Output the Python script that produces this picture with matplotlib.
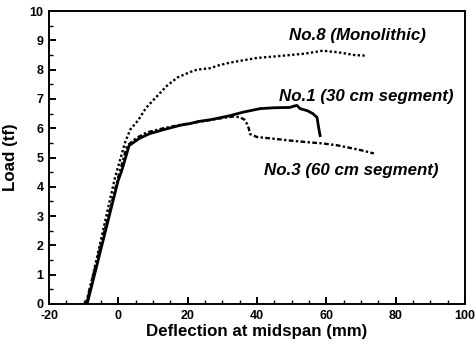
import matplotlib
matplotlib.use('Agg')
import matplotlib.pyplot as plt
from matplotlib.ticker import MultipleLocator

plt.rcParams['font.family'] = ['Liberation Sans', 'DejaVu Sans']
plt.rcParams['axes.unicode_minus'] = False

# No.8 (Monolithic)
x8 = [-9.2, -1.0, 1.9, 3.4, 5.7, 8.0, 11.2, 14.0, 17.0, 20.7, 22.7, 26.4, 29.0, 32.2, 36.0,
      40.0, 45.0, 49.5, 54.0, 59.0, 61.0, 63.0, 65.7, 68.0, 71.4]
y8 = [0.0, 4.3, 5.5, 5.95, 6.27, 6.7, 7.1, 7.45, 7.73, 7.92, 8.0, 8.05, 8.15, 8.24, 8.32,
      8.4, 8.45, 8.5, 8.55, 8.65, 8.62, 8.6, 8.55, 8.5, 8.48]

# No.1 (30 cm segment)
x1 = [-9.0, -0.1, 1.0, 3.1, 6.0, 9.1, 13.0, 17.8, 20.7, 23.0, 27.0, 32.2, 36.0, 40.9, 45.0,
      49.5, 50.5, 51.5, 52.4, 54.5, 56.1, 57.3, 57.8, 58.2]
y1 = [0.0, 4.2, 4.56, 5.41, 5.65, 5.82, 5.95, 6.1, 6.16, 6.23, 6.3, 6.43, 6.55, 6.67, 6.7,
      6.71, 6.75, 6.78, 6.67, 6.6, 6.5, 6.37, 6.0, 5.75]

# No.3 (60 cm segment)
x3 = [-9.4, 0.0, 2.5, 5.0, 8.0, 13.0, 18.0, 25.0, 30.0, 33.0, 35.0, 36.3, 37.1, 37.6, 38.0,
      40.0, 45.0, 49.5, 54.0, 59.0, 63.0, 66.0, 70.0, 73.7]
y3 = [0.0, 4.35, 5.4, 5.65, 5.85, 6.0, 6.12, 6.25, 6.35, 6.4, 6.38, 6.3, 6.15, 6.0, 5.8,
      5.7, 5.64, 5.58, 5.53, 5.48, 5.42, 5.35, 5.25, 5.14]

labels = ['No.8 (Monolithic)', 'No.1 (30 cm segment)', 'No.3 (60 cm segment)']
label_pos = [(49.2, 9.16), (46.4, 7.1), (42.0, 4.56)]

fig = plt.figure(figsize=(4.76, 3.47), dpi=100)
ax = fig.add_axes([0.103, 0.124, 0.874, 0.844])

ax.plot(x8, y8, color='black', lw=1.7, ls=(0, (1, 1)))
ax.plot(x1, y1, color='black', lw=2.0, ls='-')
ax.plot(x3, y3, color='black', lw=1.7, ls=(0, (2, 1, 1, 1)))

for txt, (tx, ty) in zip(labels, label_pos):
    ax.text(tx, ty, txt, fontsize=12.2, fontweight='bold', fontstyle='italic',
            va='center', ha='left')

ax.set_xlim(-20, 100)
ax.set_ylim(0, 10)
ax.xaxis.set_major_locator(MultipleLocator(20))
ax.xaxis.set_minor_locator(MultipleLocator(5))
ax.yaxis.set_major_locator(MultipleLocator(1))
ax.yaxis.set_minor_locator(MultipleLocator(0.5))
ax.tick_params(which='major', direction='in', length=5, width=1.4, labelsize=9, pad=4)
ax.tick_params(which='minor', direction='in', length=3, width=1.0)
for lab in ax.get_xticklabels() + ax.get_yticklabels():
    lab.set_fontweight('bold')
for sp in ax.spines.values():
    sp.set_linewidth(1.4)

ax.set_xlabel('Deflection at midspan (mm)', fontsize=12.2, fontweight='bold', labelpad=2)
ax.set_ylabel('Load (tf)', fontsize=12.2, fontweight='bold', labelpad=8)

fig.savefig('out.png', dpi=100)
